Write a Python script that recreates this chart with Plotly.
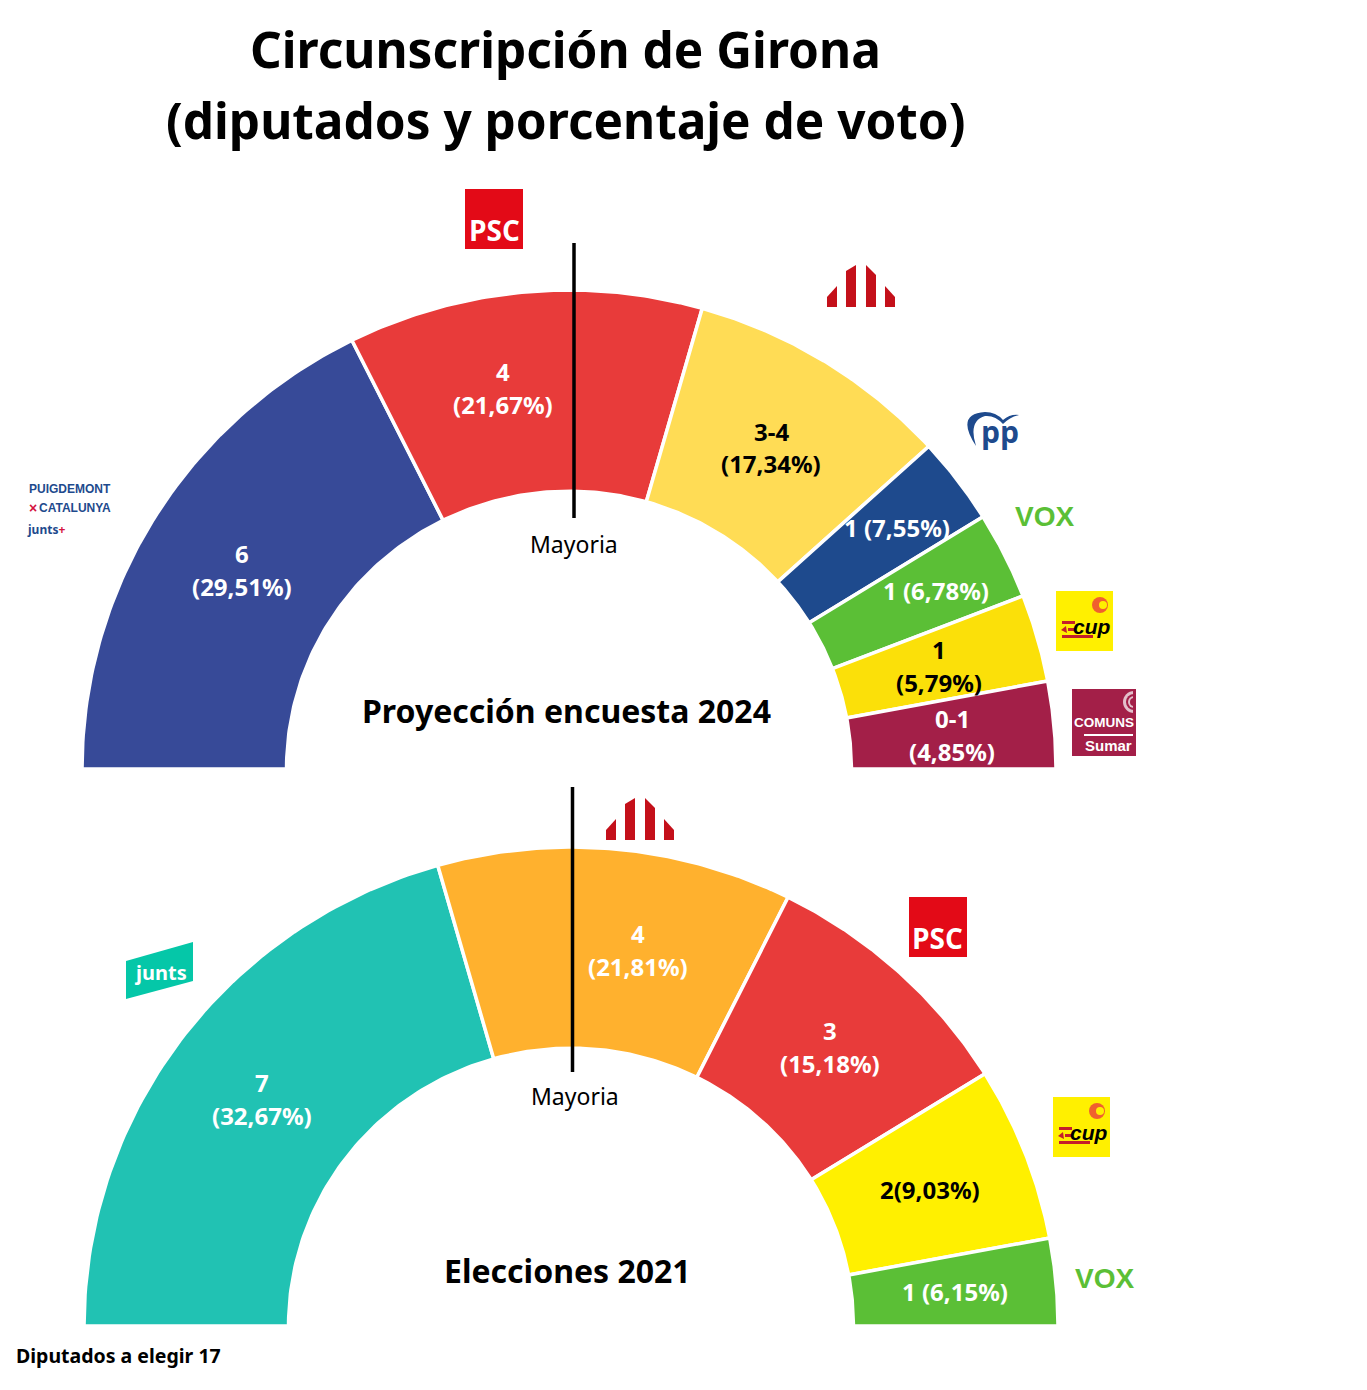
import numpy as np
import plotly.graph_objects as go

W, H = 1367, 1390
FONT = "Noto Sans"

# seats drive the arcs, percentages are just the labels
parties_2024 = ["Junts", "PSC", "ERC", "PP", "Vox", "CUP", "Comuns"]
seats_2024 = [6, 4, 3, 1, 1, 1, 1]
labels_2024 = [["6", "(29,51%)"], ["4", "(21,67%)"], ["3-4", "(17,34%)"], ["1 (7,55%)"],
               ["1 (6,78%)"], ["1", "(5,79%)"], ["0-1", "(4,85%)"]]
colors_2024 = ["#374A98", "#E83B3A", "#FFDC55", "#1E4A8D", "#5BBF36", "#FBE009", "#A31F48"]
text_colors_2024 = ["white", "white", "black", "white", "white", "black", "white"]
label_x_2024 = [242, 503, 771, 897, 936, 939, 952]
label_y_2024 = [[553, 586], [371, 404], [431, 464], [528], [590], [649, 682], [718, 751]]

parties_2021 = ["Junts", "ERC", "PSC", "CUP", "Vox"]
seats_2021 = [7, 4, 3, 2, 1]
labels_2021 = [["7", "(32,67%)"], ["4", "(21,81%)"], ["3", "(15,18%)"], ["2(9,03%)"], ["1 (6,15%)"]]
colors_2021 = ["#21C2B3", "#FFB12E", "#E83B3A", "#FFF000", "#5BBF36"]
text_colors_2021 = ["white", "white", "white", "black", "white"]
label_x_2021 = [262, 638, 830, 930, 955]
label_y_2021 = [[1082, 1115], [933, 966], [1030, 1063], [1189], [1291]]

HOLE = 0.58


def px(x):
    return x / W


def py(y):
    return 1 - y / H


def ring(seats, i):
    # one slice of the half ring, from the left end going clockwise
    total = sum(seats)
    start = 180 - 180 * sum(seats[:i]) / total
    end = 180 - 180 * sum(seats[:i + 1]) / total
    t = np.radians(np.linspace(start, end, 80))
    xs = np.concatenate([np.cos(t), HOLE * np.cos(t[::-1])])
    ys = np.concatenate([np.sin(t), HOLE * np.sin(t[::-1])])
    return np.append(xs, xs[0]), np.append(ys, ys[0])


def add_half(fig, parties, seats, colors, axis):
    for i, party in enumerate(parties):
        xs, ys = ring(seats, i)
        fig.add_trace(go.Scatter(x=xs, y=ys, mode="lines", fill="toself", fillcolor=colors[i],
                                 line=dict(color="white", width=3.5), name=party, hoverinfo="name",
                                 xaxis="x" + axis, yaxis="y" + axis))


def text(s, x, y, size, color="black", bold=True, font=FONT, xanchor="center"):
    s = "<b>" + s + "</b>" if bold else s
    annotations.append(dict(text=s, x=px(x), y=py(y), xref="paper", yref="paper", showarrow=False,
                            xanchor=xanchor, yanchor="middle",
                            font=dict(family=font, size=size, color=color)))


def path(points, color):
    d = "M" + " L".join(f"{px(a):.5f},{py(b):.5f}" for a, b in points) + " Z"
    shapes.append(dict(type="path", path=d, xref="paper", yref="paper", fillcolor=color, line_width=0))


def rect(x0, y0, x1, y1, color):
    shapes.append(dict(type="rect", x0=px(x0), x1=px(x1), y0=py(y0), y1=py(y1), xref="paper", yref="paper",
                       fillcolor=color, line_width=0))


def vline(x, y0, y1):
    shapes.append(dict(type="line", x0=px(x), x1=px(x), y0=py(y0), y1=py(y1), xref="paper", yref="paper",
                       line=dict(color="black", width=3.5)))


def circle(cx, cy, r, color):
    shapes.append(dict(type="circle", x0=px(cx - r), x1=px(cx + r), y0=py(cy - r), y1=py(cy + r),
                       xref="paper", yref="paper", fillcolor=color, line_width=0))


def psc_logo(dx, dy):
    rect(465 + dx, 189 + dy, 523 + dx, 249 + dy, "#E30A17")
    text("PSC", 494 + dx, 230 + dy, 28, "white", font="Open Sans")


def erc_logo(dx, dy):
    for pts in ([(827, 307), (827, 297), (837, 286), (837, 307)],
                [(846, 307), (846, 271), (856, 265), (856, 307)],
                [(866, 307), (866, 265), (876, 275), (876, 307)],
                [(885, 307), (885, 286), (895, 297), (895, 307)]):
        path([(a + dx, b + dy) for a, b in pts], "#C4101A")


def cup_logo(dx, dy):
    rect(1056 + dx, 591 + dy, 1113 + dx, 651 + dy, "#FFF000")
    circle(1100 + dx, 605 + dy, 8, "#F0612E")
    circle(1103 + dx, 605 + dy, 4, "#FFF000")
    rect(1062 + dx, 621 + dy, 1075 + dx, 624 + dy, "#C4202A")
    rect(1068 + dx, 628 + dy, 1075 + dx, 631 + dy, "#C4202A")
    rect(1062 + dx, 635 + dy, 1093 + dx, 638 + dy, "#C4202A")
    path([(a + dx, b + dy) for a, b in [(1061, 630), (1066, 626), (1067, 633)]], "#C4202A")
    text("<i>cup</i>", 1092 + dx, 626 + dy, 21, "black", font="Liberation Sans")


def vox_logo(x, y):
    text("VOX", x, y, 28, "#5BBF36", font="Liberation Sans")


annotations, shapes = [], []

fig = go.Figure()
add_half(fig, parties_2024, seats_2024, colors_2024, "")
add_half(fig, parties_2021, seats_2021, colors_2021, "2")

# chart texts
text("Circunscripción de Girona", 565, 49, 49.5)
text("(diputados y porcentaje de voto)", 566, 120, 49.5)
text("Proyección encuesta 2024", 566, 710, 32)
text("Elecciones 2021", 567, 1270, 32)
text("Mayoria", 574, 544, 23, bold=False)
text("Mayoria", 575, 1096, 23, bold=False)
text("Diputados a elegir 17", 14, 1355, 19.5, xanchor="left")

for labels, xs, ys, cols in ((labels_2024, label_x_2024, label_y_2024, text_colors_2024),
                             (labels_2021, label_x_2021, label_y_2021, text_colors_2021)):
    for lines, x, yy, col in zip(labels, xs, ys, cols):
        for line, y in zip(lines, yy):
            text(line, x, y, 24, col)

vline(574, 243, 518)
vline(572.5, 787, 1072)

# logos, rough versions built from shapes and text
psc_logo(0, 0)
psc_logo(444, 708)
erc_logo(0, 0)
erc_logo(-221, 533)
cup_logo(0, 0)
cup_logo(-3, 506)
vox_logo(1044, 516)
vox_logo(1104, 1278)

# pp
shapes.append(dict(type="path", xref="paper", yref="paper", fillcolor="#1E4A8D", line_width=0,
                   path=f"M{px(976):.5f},{py(446):.5f} "
                        f"Q{px(955):.5f},{py(414):.5f} {px(985):.5f},{py(412):.5f} "
                        f"Q{px(996):.5f},{py(412):.5f} {px(1003):.5f},{py(420):.5f} "
                        f"Q{px(1010):.5f},{py(414):.5f} {px(1019):.5f},{py(415):.5f} "
                        f"Q{px(1010):.5f},{py(417):.5f} {px(1003):.5f},{py(424):.5f} "
                        f"Q{px(995):.5f},{py(415):.5f} {px(985):.5f},{py(416):.5f} "
                        f"Q{px(968):.5f},{py(421):.5f} {px(976):.5f},{py(446):.5f} Z"))
text("pp", 1000, 431, 30, "#1E4A8D", font="Open Sans")

# comuns
rect(1072, 689, 1136, 756, "#A31F48")
circle(1134, 702, 11, "#E3BFCB")
circle(1134, 702, 8, "#A31F48")
circle(1134, 702, 6, "#E3BFCB")
circle(1134, 702, 4, "#A31F48")
rect(1133, 689, 1136, 716, "#A31F48")
rect(1136, 685, 1148, 720, "white")
text("COMUNS", 1104, 722, 13.5, "white", font="Liberation Sans")
rect(1084, 734, 1133, 736, "white")
text("Sumar", 1108, 745, 15, "white", font="Liberation Sans")

# junts 2024 list
text("PUIGDEMONT", 69.5, 489, 12, "#1E4A8D", font="Liberation Sans")
text("×", 33, 508, 14, "#D5123F", font="Liberation Sans")
text("CATALUNYA", 74.5, 508, 12, "#1E4A8D", font="Liberation Sans")
text("junts<span style='color:#D5123F'>+</span>", 46, 529, 12, "#1E4A8D")

# junts 2021
path([(126, 961), (193, 942), (193, 981), (126, 999)], "#05C7A8")
text("junts", 160, 973, 20, "white")

fig.update_layout(
    width=W, height=H, margin=dict(l=0, r=0, t=0, b=0), autosize=False,
    paper_bgcolor="white", plot_bgcolor="white", showlegend=False,
    annotations=annotations, shapes=shapes,
    xaxis=dict(domain=[px(82), px(1056)], range=[-1, 1], visible=False, fixedrange=True),
    yaxis=dict(domain=[py(769), py(290)], range=[0, 1], visible=False, fixedrange=True),
    xaxis2=dict(domain=[px(84), px(1058)], range=[-1, 1], visible=False, fixedrange=True),
    yaxis2=dict(domain=[py(1326), py(847)], range=[0, 1], visible=False, fixedrange=True),
)

fig.write_html("out.html", config={"displayModeBar": False}, post_script="document.body.style.margin='0';")
